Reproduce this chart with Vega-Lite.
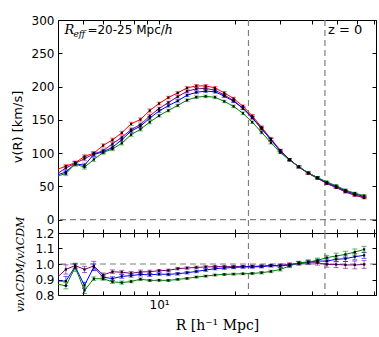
{
"$schema": "https://vega.github.io/schema/vega-lite/v6.json",
"padding": {"left": 10, "top": 13, "right": 7, "bottom": 4},
"spacing": 0,
"bounds": "flush",
"config": {
 "view": {"stroke": "black", "strokeWidth": 1},
 "font": "DejaVu Sans",
 "axis": {"labelFont": "DejaVu Sans", "labelFontSize": 12, "labelColor": "black", "tickColor": "black", "domain": false, "grid": false, "titleFont": "DejaVu Sans", "titleFontSize": 13, "titleFontWeight": "normal", "titleColor": "black", "tickSize": -4, "labelPadding": 8}
},
"datasets": {
 "vl": [{"R": 22.5}, {"R": 45}],
 "s": [
{"R":3.948,"s":"LCDM","v":75,"ve":2.5},{"R":4.295,"s":"LCDM","v":80.5,"ve":2.5},{"R":4.674,"s":"LCDM","v":85.5,"ve":2.5},{"R":5.086,"s":"LCDM","v":95,"ve":2.5},{"R":5.535,"s":"LCDM","v":100,"ve":2.5},{"R":6.023,"s":"LCDM","v":111.5,"ve":2.5},{"R":6.554,"s":"LCDM","v":120,"ve":2.5},{"R":7.132,"s":"LCDM","v":130.5,"ve":2.5},{"R":7.761,"s":"LCDM","v":144,"ve":2.5},{"R":8.446,"s":"LCDM","v":150.5,"ve":2.5},{"R":9.19,"s":"LCDM","v":164,"ve":2.5},{"R":10.0,"s":"LCDM","v":174.5,"ve":2},{"R":10.88,"s":"LCDM","v":183.5,"ve":2},{"R":11.84,"s":"LCDM","v":190.5,"ve":2},{"R":12.89,"s":"LCDM","v":198,"ve":2},{"R":14.02,"s":"LCDM","v":201,"ve":2},{"R":15.26,"s":"LCDM","v":201,"ve":2},{"R":16.61,"s":"LCDM","v":198,"ve":2},{"R":18.07,"s":"LCDM","v":190.5,"ve":2},{"R":19.66,"s":"LCDM","v":182,"ve":2},{"R":21.4,"s":"LCDM","v":170.5,"ve":2},{"R":23.28,"s":"LCDM","v":156,"ve":2},{"R":25.33,"s":"LCDM","v":139,"ve":2},{"R":27.57,"s":"LCDM","v":121.5,"ve":2},{"R":30.0,"s":"LCDM","v":104.5,"ve":1.5},{"R":32.64,"s":"LCDM","v":90.5,"ve":1.5},{"R":35.52,"s":"LCDM","v":79,"ve":1.5},{"R":38.66,"s":"LCDM","v":69.5,"ve":1.5},{"R":42.06,"s":"LCDM","v":62,"ve":1.5},{"R":45.77,"s":"LCDM","v":54.5,"ve":1.5},{"R":49.81,"s":"LCDM","v":48.5,"ve":1.5},{"R":54.2,"s":"LCDM","v":42,"ve":1.5},{"R":58.98,"s":"LCDM","v":37,"ve":1.5},{"R":64.18,"s":"LCDM","v":33,"ve":1.5},
{"R":3.948,"s":"nu1","v":68.3,"ve":3,"r":0.91,"re":0.02},{"R":4.295,"s":"nu1","v":77.7,"ve":3,"r":0.965,"re":0.03},{"R":4.674,"s":"nu1","v":84.6,"ve":3,"r":0.99,"re":0.015},{"R":5.086,"s":"nu1","v":91.7,"ve":3,"r":0.965,"re":0.02},{"R":5.535,"s":"nu1","v":98.7,"ve":3,"r":0.987,"re":0.03},{"R":6.023,"s":"nu1","v":103.7,"ve":2.5,"r":0.93,"re":0.012},{"R":6.554,"s":"nu1","v":114,"ve":2.5,"r":0.95,"re":0.012},{"R":7.132,"s":"nu1","v":123.6,"ve":2.5,"r":0.947,"re":0.012},{"R":7.761,"s":"nu1","v":135.4,"ve":2.5,"r":0.94,"re":0.012},{"R":8.446,"s":"nu1","v":142.8,"ve":2.5,"r":0.949,"re":0.012},{"R":9.19,"s":"nu1","v":155.8,"ve":2.5,"r":0.95,"re":0.01},{"R":10.0,"s":"nu1","v":167,"ve":2,"r":0.957,"re":0.008},{"R":10.88,"s":"nu1","v":176,"ve":2,"r":0.959,"re":0.008},{"R":11.84,"s":"nu1","v":184.8,"ve":2,"r":0.97,"re":0.008},{"R":12.89,"s":"nu1","v":192.9,"ve":2,"r":0.974,"re":0.008},{"R":14.02,"s":"nu1","v":196.6,"ve":2,"r":0.978,"re":0.008},{"R":15.26,"s":"nu1","v":197.2,"ve":2,"r":0.981,"re":0.008},{"R":16.61,"s":"nu1","v":194.6,"ve":2,"r":0.983,"re":0.008},{"R":18.07,"s":"nu1","v":187.3,"ve":2,"r":0.983,"re":0.008},{"R":19.66,"s":"nu1","v":178.9,"ve":2,"r":0.983,"re":0.008},{"R":21.4,"s":"nu1","v":167.6,"ve":2,"r":0.983,"re":0.008},{"R":23.28,"s":"nu1","v":153.7,"ve":2,"r":0.985,"re":0.008},{"R":25.33,"s":"nu1","v":137.2,"ve":2,"r":0.987,"re":0.008},{"R":27.57,"s":"nu1","v":120.3,"ve":2,"r":0.99,"re":0.008},{"R":30.0,"s":"nu1","v":103.6,"ve":1.5,"r":0.991,"re":0.01},{"R":32.64,"s":"nu1","v":90.2,"ve":1.5,"r":0.997,"re":0.01},{"R":35.52,"s":"nu1","v":79.3,"ve":1.5,"r":1.004,"re":0.01},{"R":38.66,"s":"nu1","v":70.1,"ve":1.5,"r":1.008,"re":0.012},{"R":42.06,"s":"nu1","v":62.5,"ve":1.5,"r":1.008,"re":0.015},{"R":45.77,"s":"nu1","v":54.3,"ve":1.5,"r":0.997,"re":0.018},{"R":49.81,"s":"nu1","v":48.4,"ve":1.5,"r":0.997,"re":0.02},{"R":54.2,"s":"nu1","v":41.7,"ve":1.5,"r":0.994,"re":0.022},{"R":58.98,"s":"nu1","v":36.8,"ve":1.5,"r":0.994,"re":0.025},{"R":64.18,"s":"nu1","v":32.9,"ve":1.5,"r":0.997,"re":0.025},
{"R":3.948,"s":"nu2","v":66.8,"ve":3,"r":0.89,"re":0.025},{"R":4.295,"s":"nu2","v":71.6,"ve":3,"r":0.89,"re":0.03},{"R":4.674,"s":"nu2","v":84.0,"ve":3,"r":0.983,"re":0.015},{"R":5.086,"s":"nu2","v":81.9,"ve":3,"r":0.862,"re":0.02},{"R":5.535,"s":"nu2","v":98,"ve":3,"r":0.98,"re":0.02},{"R":6.023,"s":"nu2","v":102.0,"ve":2.5,"r":0.915,"re":0.012},{"R":6.554,"s":"nu2","v":108.7,"ve":2.5,"r":0.906,"re":0.012},{"R":7.132,"s":"nu2","v":120.1,"ve":2.5,"r":0.92,"re":0.012},{"R":7.761,"s":"nu2","v":133.2,"ve":2.5,"r":0.925,"re":0.01},{"R":8.446,"s":"nu2","v":140.4,"ve":2.5,"r":0.933,"re":0.01},{"R":9.19,"s":"nu2","v":152.5,"ve":2.5,"r":0.93,"re":0.01},{"R":10.0,"s":"nu2","v":163.2,"ve":2,"r":0.935,"re":0.008},{"R":10.88,"s":"nu2","v":171.2,"ve":2,"r":0.933,"re":0.008},{"R":11.84,"s":"nu2","v":178.5,"ve":2,"r":0.937,"re":0.008},{"R":12.89,"s":"nu2","v":186.9,"ve":2,"r":0.944,"re":0.008},{"R":14.02,"s":"nu2","v":191.4,"ve":2,"r":0.952,"re":0.008},{"R":15.26,"s":"nu2","v":193.2,"ve":2,"r":0.961,"re":0.008},{"R":16.61,"s":"nu2","v":192.1,"ve":2,"r":0.97,"re":0.008},{"R":18.07,"s":"nu2","v":185.5,"ve":2,"r":0.974,"re":0.008},{"R":19.66,"s":"nu2","v":178,"ve":2,"r":0.978,"re":0.008},{"R":21.4,"s":"nu2","v":167.3,"ve":2,"r":0.981,"re":0.008},{"R":23.28,"s":"nu2","v":153,"ve":2,"r":0.981,"re":0.008},{"R":25.33,"s":"nu2","v":136.6,"ve":2,"r":0.983,"re":0.008},{"R":27.57,"s":"nu2","v":120.2,"ve":2,"r":0.989,"re":0.008},{"R":30.0,"s":"nu2","v":103.1,"ve":1.5,"r":0.987,"re":0.01},{"R":32.64,"s":"nu2","v":90,"ve":1.5,"r":0.994,"re":0.01},{"R":35.52,"s":"nu2","v":79.3,"ve":1.5,"r":1.004,"re":0.01},{"R":38.66,"s":"nu2","v":70.4,"ve":1.5,"r":1.013,"re":0.012},{"R":42.06,"s":"nu2","v":63.2,"ve":1.5,"r":1.019,"re":0.012},{"R":45.77,"s":"nu2","v":55.5,"ve":1.5,"r":1.019,"re":0.015},{"R":49.81,"s":"nu2","v":50,"ve":1.5,"r":1.03,"re":0.015},{"R":54.2,"s":"nu2","v":43.4,"ve":1.5,"r":1.034,"re":0.018},{"R":58.98,"s":"nu2","v":38.7,"ve":1.5,"r":1.047,"re":0.02},{"R":64.18,"s":"nu2","v":34.8,"ve":1.5,"r":1.056,"re":0.02},
{"R":3.948,"s":"nu3","v":65.3,"ve":3,"r":0.87,"re":0.02},{"R":4.295,"s":"nu3","v":69.2,"ve":3,"r":0.86,"re":0.02},{"R":4.674,"s":"nu3","v":83.6,"ve":3,"r":0.978,"re":0.025},{"R":5.086,"s":"nu3","v":78.9,"ve":3,"r":0.83,"re":0.02},{"R":5.535,"s":"nu3","v":90.5,"ve":3,"r":0.905,"re":0.012},{"R":6.023,"s":"nu3","v":100.9,"ve":2.5,"r":0.905,"re":0.01},{"R":6.554,"s":"nu3","v":106.2,"ve":2.5,"r":0.885,"re":0.01},{"R":7.132,"s":"nu3","v":114.8,"ve":2.5,"r":0.88,"re":0.01},{"R":7.761,"s":"nu3","v":127.7,"ve":2.5,"r":0.887,"re":0.008},{"R":8.446,"s":"nu3","v":135.8,"ve":2.5,"r":0.902,"re":0.008},{"R":9.19,"s":"nu3","v":146.6,"ve":2.5,"r":0.894,"re":0.006},{"R":10.0,"s":"nu3","v":156.2,"ve":2,"r":0.895,"re":0.006},{"R":10.88,"s":"nu3","v":164,"ve":2,"r":0.894,"re":0.006},{"R":11.84,"s":"nu3","v":171.6,"ve":2,"r":0.901,"re":0.006},{"R":12.89,"s":"nu3","v":179.6,"ve":2,"r":0.907,"re":0.006},{"R":14.02,"s":"nu3","v":184.1,"ve":2,"r":0.916,"re":0.006},{"R":15.26,"s":"nu3","v":185.3,"ve":2,"r":0.922,"re":0.006},{"R":16.61,"s":"nu3","v":183.9,"ve":2,"r":0.929,"re":0.006},{"R":18.07,"s":"nu3","v":177.7,"ve":2,"r":0.933,"re":0.006},{"R":19.66,"s":"nu3","v":170.2,"ve":2,"r":0.935,"re":0.006},{"R":21.4,"s":"nu3","v":159.8,"ve":2,"r":0.937,"re":0.006},{"R":23.28,"s":"nu3","v":146.5,"ve":2,"r":0.939,"re":0.006},{"R":25.33,"s":"nu3","v":131.2,"ve":2,"r":0.944,"re":0.008},{"R":27.57,"s":"nu3","v":115.7,"ve":2,"r":0.952,"re":0.008},{"R":30.0,"s":"nu3","v":100.8,"ve":1.5,"r":0.965,"re":0.01},{"R":32.64,"s":"nu3","v":89.3,"ve":1.5,"r":0.987,"re":0.01},{"R":35.52,"s":"nu3","v":79.6,"ve":1.5,"r":1.008,"re":0.01},{"R":38.66,"s":"nu3","v":70.4,"ve":1.5,"r":1.013,"re":0.012},{"R":42.06,"s":"nu3","v":63.4,"ve":1.5,"r":1.023,"re":0.015},{"R":45.77,"s":"nu3","v":56.7,"ve":1.5,"r":1.041,"re":0.015},{"R":49.81,"s":"nu3","v":51,"ve":1.5,"r":1.052,"re":0.018},{"R":54.2,"s":"nu3","v":44.6,"ve":1.5,"r":1.062,"re":0.02},{"R":58.98,"s":"nu3","v":39.8,"ve":1.5,"r":1.077,"re":0.02},{"R":64.18,"s":"nu3","v":36.1,"ve":1.5,"r":1.094,"re":0.02}
 ]
},
"vconcat": [
 {
  "width": 318, "height": 213,
  "resolve": {"axis": {"x": "independent", "y": "independent"}},
  "layer": [
   {"data": {"name": "vl"}, "mark": {"type": "rule", "strokeDash": [6, 4], "color": "#7f7f7f", "strokeWidth": 1.2},
    "encoding": {"x": {"field": "R", "type": "quantitative", "scale": {"type": "log", "domain": [4.0, 71.5], "nice": false},
      "axis": {"orient": "top", "values": [5,6,7,8,9,10,20,30,40,50,60,70], "labels": false, "title": null}}}},
   {"data": {"values": [{"y": 0}]}, "mark": {"type": "rule", "strokeDash": [6, 4], "color": "#7f7f7f", "strokeWidth": 1.2},
    "encoding": {"y": {"field": "y", "type": "quantitative", "scale": {"domain": [-20, 300], "nice": false, "zero": false},
      "axis": {"orient": "right", "values": [0,50,100,150,200,250,300], "labels": false, "title": null}}}},
   {"data": {"name": "s"}, "mark": {"type": "errorbar", "ticks": {"size": 5}, "opacity": 0.5, "clip": true},
    "encoding": {"x": {"field": "R", "type": "quantitative", "scale": {"type": "log", "domain": [4.0, 71.5], "nice": false}, "axis": null},
     "y": {"field": "v", "type": "quantitative", "scale": {"domain": [-20, 300], "nice": false, "zero": false}, "axis": null},
     "yError": {"field": "ve"},
     "color": {"field": "s", "type": "nominal", "scale": {"domain": ["LCDM", "nu1", "nu2", "nu3"], "range": ["#ff0000", "#800080", "#0000ff", "#008000"]}, "legend": null}}},
   {"data": {"name": "s"}, "mark": {"type": "line", "strokeWidth": 1, "clip": true},
    "encoding": {"x": {"field": "R", "type": "quantitative", "scale": {"type": "log", "domain": [4.0, 71.5], "nice": false},
      "axis": {"orient": "bottom", "values": [5,6,7,8,9,10,20,30,40,50,60,70], "labels": false, "title": null}},
     "y": {"field": "v", "type": "quantitative", "scale": {"domain": [-20, 300], "nice": false, "zero": false},
      "axis": {"orient": "left", "values": [0,50,100,150,200,250,300], "title": "v(R) [km/s]", "titlePadding": 7}},
     "color": {"field": "s", "type": "nominal", "scale": {"domain": ["LCDM", "nu1", "nu2", "nu3"], "range": ["#ff0000", "#800080", "#0000ff", "#008000"]}, "legend": null}}},
   {"data": {"name": "s"}, "mark": {"type": "point", "shape": "square", "filled": true, "color": "black", "size": 5, "opacity": 1, "clip": true},
    "encoding": {"x": {"field": "R", "type": "quantitative", "scale": {"type": "log", "domain": [4.0, 71.5], "nice": false}, "axis": null},
     "y": {"field": "v", "type": "quantitative", "scale": {"domain": [-20, 300], "nice": false, "zero": false}, "axis": null}}},
   {"data": {"values": [{"R": 4.24, "v": 279, "t": "R"}]}, "mark": {"type": "text", "align": "left", "baseline": "alphabetic", "font": "DejaVu Serif", "fontStyle": "italic", "fontSize": 13},
    "encoding": {"x": {"field": "R", "type": "quantitative", "scale": {"type": "log", "domain": [4.0, 71.5], "nice": false}, "axis": null},
     "y": {"field": "v", "type": "quantitative", "scale": {"domain": [-20, 300], "nice": false, "zero": false}, "axis": null}, "text": {"field": "t"}}},
   {"data": {"values": [{"R": 4.24, "v": 279, "t": "eff"}]}, "mark": {"type": "text", "align": "left", "baseline": "alphabetic", "font": "DejaVu Serif", "fontStyle": "italic", "fontSize": 9, "dx": 9, "dy": 3},
    "encoding": {"x": {"field": "R", "type": "quantitative", "scale": {"type": "log", "domain": [4.0, 71.5], "nice": false}, "axis": null},
     "y": {"field": "v", "type": "quantitative", "scale": {"domain": [-20, 300], "nice": false, "zero": false}, "axis": null}, "text": {"field": "t"}}},
   {"data": {"values": [{"R": 4.24, "v": 279, "t": "=20-25 Mpc/"}]}, "mark": {"type": "text", "align": "left", "baseline": "alphabetic", "font": "DejaVu Sans", "fontSize": 12, "dx": 23},
    "encoding": {"x": {"field": "R", "type": "quantitative", "scale": {"type": "log", "domain": [4.0, 71.5], "nice": false}, "axis": null},
     "y": {"field": "v", "type": "quantitative", "scale": {"domain": [-20, 300], "nice": false, "zero": false}, "axis": null}, "text": {"field": "t"}}},
   {"data": {"values": [{"R": 4.24, "v": 279, "t": "h"}]}, "mark": {"type": "text", "align": "left", "baseline": "alphabetic", "font": "DejaVu Serif", "fontStyle": "italic", "fontSize": 13, "dx": 100},
    "encoding": {"x": {"field": "R", "type": "quantitative", "scale": {"type": "log", "domain": [4.0, 71.5], "nice": false}, "axis": null},
     "y": {"field": "v", "type": "quantitative", "scale": {"domain": [-20, 300], "nice": false, "zero": false}, "axis": null}, "text": {"field": "t"}}},
   {"data": {"values": [{"R": 46.3, "v": 279, "t": "z = 0"}]}, "mark": {"type": "text", "align": "left", "baseline": "alphabetic", "font": "DejaVu Sans", "fontSize": 13},
    "encoding": {"x": {"field": "R", "type": "quantitative", "scale": {"type": "log", "domain": [4.0, 71.5], "nice": false}, "axis": null},
     "y": {"field": "v", "type": "quantitative", "scale": {"domain": [-20, 300], "nice": false, "zero": false}, "axis": null}, "text": {"field": "t"}}}
  ]
 },
 {
  "width": 318, "height": 62,
  "resolve": {"axis": {"x": "independent", "y": "independent"}},
  "layer": [
   {"data": {"name": "vl"}, "mark": {"type": "rule", "strokeDash": [6, 4], "color": "#7f7f7f", "strokeWidth": 1.2},
    "encoding": {"x": {"field": "R", "type": "quantitative", "scale": {"type": "log", "domain": [4.0, 71.5], "nice": false},
      "axis": {"orient": "top", "values": [5,6,7,8,9,10,20,30,40,50,60,70], "labels": false, "title": null}}}},
   {"data": {"values": [{"y": 1}]}, "mark": {"type": "rule", "strokeDash": [6, 4], "color": "#7f7f7f", "strokeWidth": 1.2},
    "encoding": {"y": {"field": "y", "type": "quantitative", "scale": {"domain": [0.8, 1.2], "nice": false, "zero": false},
      "axis": {"orient": "right", "values": [0.8,0.9,1.0,1.1,1.2], "labels": false, "title": null}}}},
   {"data": {"name": "s"}, "transform": [{"filter": "datum.s != 'LCDM'"}], "mark": {"type": "errorbar", "ticks": {"size": 5}, "opacity": 0.6, "clip": true},
    "encoding": {"x": {"field": "R", "type": "quantitative", "scale": {"type": "log", "domain": [4.0, 71.5], "nice": false}, "axis": null},
     "y": {"field": "r", "type": "quantitative", "scale": {"domain": [0.8, 1.2], "nice": false, "zero": false}, "axis": null},
     "yError": {"field": "re"},
     "color": {"field": "s", "type": "nominal", "scale": {"domain": ["LCDM", "nu1", "nu2", "nu3"], "range": ["#ff0000", "#800080", "#0000ff", "#008000"]}, "legend": null}}},
   {"data": {"name": "s"}, "transform": [{"filter": "datum.s != 'LCDM'"}], "mark": {"type": "line", "strokeWidth": 1, "clip": true},
    "encoding": {"x": {"field": "R", "type": "quantitative", "scale": {"type": "log", "domain": [4.0, 71.5], "nice": false},
      "axis": {"orient": "bottom", "values": [5,6,7,8,9,10,20,30,40,50,60,70], "labelExpr": "datum.value == 10 ? '10¹' : ''", "title": "R [h⁻¹ Mpc]", "titleFont": "DejaVu Serif", "titleFontSize": 14, "titlePadding": 8}},
     "y": {"field": "r", "type": "quantitative", "scale": {"domain": [0.8, 1.2], "nice": false, "zero": false},
      "axis": {"orient": "left", "values": [0.8,0.9,1.0,1.1,1.2], "format": ".1f", "title": "vνΛCDM/vΛCDM", "titleFont": "DejaVu Serif", "titleFontStyle": "italic", "titleFontSize": 11, "titlePadding": 9}},
     "color": {"field": "s", "type": "nominal", "scale": {"domain": ["LCDM", "nu1", "nu2", "nu3"], "range": ["#ff0000", "#800080", "#0000ff", "#008000"]}, "legend": null}}},
   {"data": {"name": "s"}, "transform": [{"filter": "datum.s != 'LCDM'"}], "mark": {"type": "point", "shape": "square", "filled": true, "color": "black", "size": 5, "opacity": 1, "clip": true},
    "encoding": {"x": {"field": "R", "type": "quantitative", "scale": {"type": "log", "domain": [4.0, 71.5], "nice": false}, "axis": null},
     "y": {"field": "r", "type": "quantitative", "scale": {"domain": [0.8, 1.2], "nice": false, "zero": false}, "axis": null}}}
  ]
 }
]
}
